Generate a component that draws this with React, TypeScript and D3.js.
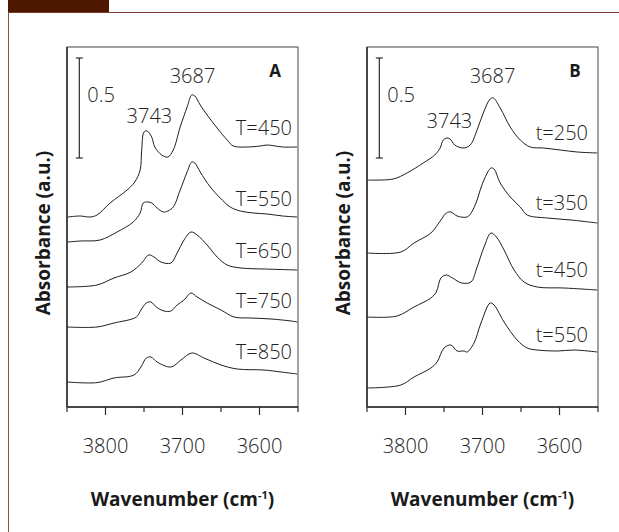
import React from "react";
import * as d3 from "d3";

const W = 619, H = 532;

// Panel A: spectra at different temperatures, [wavenumber, absorbance (stacked)]
const specT450 = [[3849,0.95],[3833,0.955],[3820,0.95],[3811,0.96],[3794,1.02],[3772,1.085],[3762,1.125],[3755,1.185],[3753,1.285],[3750,1.375],[3746,1.38],[3740,1.35],[3736,1.3],[3727,1.26],[3719,1.25],[3712,1.285],[3703,1.4],[3694,1.5],[3688,1.56],[3684,1.555],[3677,1.51],[3668,1.46],[3655,1.395],[3642,1.335],[3634,1.305],[3616,1.3],[3599,1.305],[3590,1.31],[3570,1.3],[3551,1.3]];
const specT550 = [[3849,0.825],[3833,0.83],[3807,0.835],[3785,0.875],[3764,0.925],[3755,0.97],[3751,1.02],[3745,1.025],[3740,1.02],[3733,0.995],[3725,0.975],[3719,0.98],[3712,1.0],[3703,1.085],[3694,1.175],[3688,1.225],[3684,1.22],[3677,1.175],[3664,1.1],[3651,1.045],[3638,1.0],[3625,0.98],[3608,0.97],[3590,0.965],[3570,0.955],[3551,0.95]];
const specT650 = [[3850,0.6],[3811,0.61],[3789,0.645],[3767,0.675],[3753,0.72],[3744,0.76],[3737,0.75],[3728,0.725],[3715,0.72],[3707,0.77],[3698,0.835],[3689,0.875],[3681,0.86],[3668,0.81],[3655,0.75],[3642,0.71],[3624,0.695],[3594,0.69],[3551,0.685]];
const specT750 = [[3850,0.4],[3811,0.4],[3789,0.42],[3760,0.45],[3754,0.485],[3747,0.52],[3741,0.525],[3734,0.5],[3724,0.48],[3715,0.48],[3707,0.51],[3698,0.535],[3689,0.57],[3681,0.55],[3668,0.52],[3650,0.485],[3633,0.45],[3611,0.445],[3585,0.44],[3559,0.43],[3551,0.425]];
const specT850 = [[3850,0.125],[3811,0.122],[3789,0.145],[3763,0.16],[3754,0.2],[3747,0.245],[3741,0.25],[3733,0.225],[3715,0.2],[3702,0.235],[3688,0.27],[3672,0.245],[3650,0.21],[3629,0.19],[3594,0.185],[3572,0.175],[3551,0.165]];

// Panel B: spectra at different times
const spect250 = [[3849,1.135],[3816,1.14],[3798,1.17],[3777,1.22],[3762,1.26],[3755,1.295],[3751,1.335],[3746,1.345],[3742,1.34],[3736,1.31],[3725,1.295],[3716,1.31],[3707,1.385],[3699,1.47],[3690,1.54],[3686,1.545],[3677,1.495],[3664,1.4],[3651,1.335],[3638,1.3],[3621,1.295],[3599,1.285],[3577,1.275],[3551,1.27]];
const spect350 = [[3850,0.77],[3806,0.775],[3789,0.82],[3767,0.87],[3754,0.935],[3747,0.97],[3741,0.975],[3733,0.955],[3720,0.95],[3714,0.975],[3707,1.035],[3703,1.085],[3697,1.145],[3689,1.195],[3685,1.19],[3677,1.12],[3664,1.05],[3651,1.0],[3642,0.96],[3616,0.945],[3585,0.935],[3551,0.92]];
const spect450 = [[3850,0.45],[3811,0.455],[3789,0.5],[3767,0.545],[3760,0.575],[3754,0.645],[3747,0.66],[3739,0.645],[3727,0.62],[3715,0.625],[3707,0.7],[3698,0.8],[3689,0.87],[3682,0.85],[3672,0.785],[3659,0.685],[3646,0.625],[3629,0.6],[3594,0.595],[3551,0.585]];
const spect550 = [[3850,0.095],[3806,0.11],[3789,0.15],[3767,0.195],[3759,0.225],[3750,0.295],[3741,0.31],[3733,0.28],[3724,0.28],[3720,0.275],[3711,0.32],[3702,0.42],[3690,0.52],[3685,0.51],[3672,0.425],[3655,0.335],[3642,0.295],[3629,0.285],[3603,0.28],[3581,0.285],[3551,0.275]];

const seriesA = [specT450, specT550, specT650, specT750, specT850];
const namesA = ["T=450", "T=550", "T=650", "T=750", "T=850"];
const seriesB = [spect250, spect350, spect450, spect550];
const namesB = ["t=250", "t=350", "t=450", "t=550"];

const majorTicks = [3800, 3700, 3600];
const minorTicks = [3850, 3750, 3650, 3550];
const peaks = [3743, 3687];

const font = "'Open Sans', 'DejaVu Sans', sans-serif";
const ink = "#2b2b2b";
const textInk = "#222";

function Panel({ left, series, names, nameYs, nameRight, letter, peakYs, scaleLabelY }) {
  const top = 47, bottom = 407, width = 231;
  const x = d3.scaleLinear().domain([3850, 3550]).range([left, left + width]);
  const y = d3.scaleLinear().domain([0, 1.8]).range([bottom, top]);
  const line = d3.line().x(d => x(d[0])).y(d => y(d[1])).curve(d3.curveCatmullRom.alpha(0.5));
  const barX = x(3834);

  return (
    <g>
      <rect x={left} y={top} width={width} height={bottom - top} fill="none" stroke="#444" strokeWidth={1} />
      <line x1={left} x2={left} y1={top} y2={bottom} stroke={ink} strokeWidth={1.5} />
      <line x1={left} x2={left + width} y1={bottom} y2={bottom} stroke={ink} strokeWidth={1.5} />
      {majorTicks.map(t => (
        <g key={"M" + t}>
          <line x1={x(t)} x2={x(t)} y1={bottom} y2={bottom + 8} stroke={ink} strokeWidth={1.2} />
          <text x={x(t)} y={453} textAnchor="middle" fontSize={20} fontWeight={300} fill={textInk} fontFamily={font}>{t}</text>
        </g>
      ))}
      {minorTicks.map(t => (
        <line key={"m" + t} x1={x(t)} x2={x(t)} y1={bottom} y2={bottom + 5} stroke={ink} strokeWidth={1.2} />
      ))}
      {series.map((s, i) => (
        <path key={i} d={line(s)} fill="none" stroke="#1e1e1e" strokeWidth={1} />
      ))}
      {names.map((n, i) => (
        <text key={n} x={left + width - nameRight} y={y(nameYs[i])} textAnchor="end" fontSize={20} fontWeight={300} fill={textInk} fontFamily={font}>{n}</text>
      ))}
      {peaks.map((p, i) => (
        <text key={p} x={x(p)} y={y(peakYs[i])} textAnchor="middle" fontSize={20} fontWeight={300} fill={textInk} fontFamily={font}>{p}</text>
      ))}
      <line x1={barX} x2={barX} y1={y(1.745)} y2={y(1.245)} stroke={ink} strokeWidth={1.2} />
      <line x1={barX - 3.5} x2={barX + 3.5} y1={y(1.745)} y2={y(1.745)} stroke={ink} strokeWidth={1.2} />
      <line x1={barX - 3.5} x2={barX + 3.5} y1={y(1.245)} y2={y(1.245)} stroke={ink} strokeWidth={1.2} />
      <text x={barX + 8} y={y(scaleLabelY)} fontSize={20} fontWeight={300} fill={textInk} fontFamily={font}>0.5</text>
      <text x={left + width - 23} y={77} fontSize={17} fontWeight={700} fill="#1a1a1a" fontFamily={font} textAnchor="middle">{letter}</text>
      <text x={left + width / 2} y={506} textAnchor="middle" fontSize={19} fontWeight={700} fill="#1a1a1a" fontFamily={font}>
        Wavenumber (cm<tspan dy={-7} fontSize={11}>-1</tspan><tspan dy={7}>)</tspan>
      </text>
      <text transform={`translate(${left - 17},${233}) rotate(-90)`} textAnchor="middle" fontSize={19} fontWeight={700} fill="#1a1a1a" fontFamily={font}>
        Absorbance (a.u.)
      </text>
    </g>
  );
}

export default function App() {
  return (
    <div style={{ position: "absolute", left: 0, top: 0 }}>
      <svg width={W} height={H} style={{ display: "block", background: "#fff" }}>
        <rect x={8} y={0} width={101} height={12} fill="#4e1700" />
        <line x1={8} x2={W} y1={12.5} y2={12.5} stroke="#7d3a26" strokeWidth={1} />
        <line x1={8.5} x2={8.5} y1={12} y2={H} stroke="#8a5444" strokeWidth={1} />
        <Panel left={67} series={seriesA} names={namesA} nameYs={[1.36, 1.005, 0.745, 0.495, 0.24]} nameRight={6} letter="A" peakYs={[1.42, 1.62]} scaleLabelY={1.525} />
        <Panel left={367} series={seriesB} names={namesB} nameYs={[1.335, 0.985, 0.65, 0.325]} nameRight={10} letter="B" peakYs={[1.395, 1.62]} scaleLabelY={1.525} />
      </svg>
    </div>
  );
}
